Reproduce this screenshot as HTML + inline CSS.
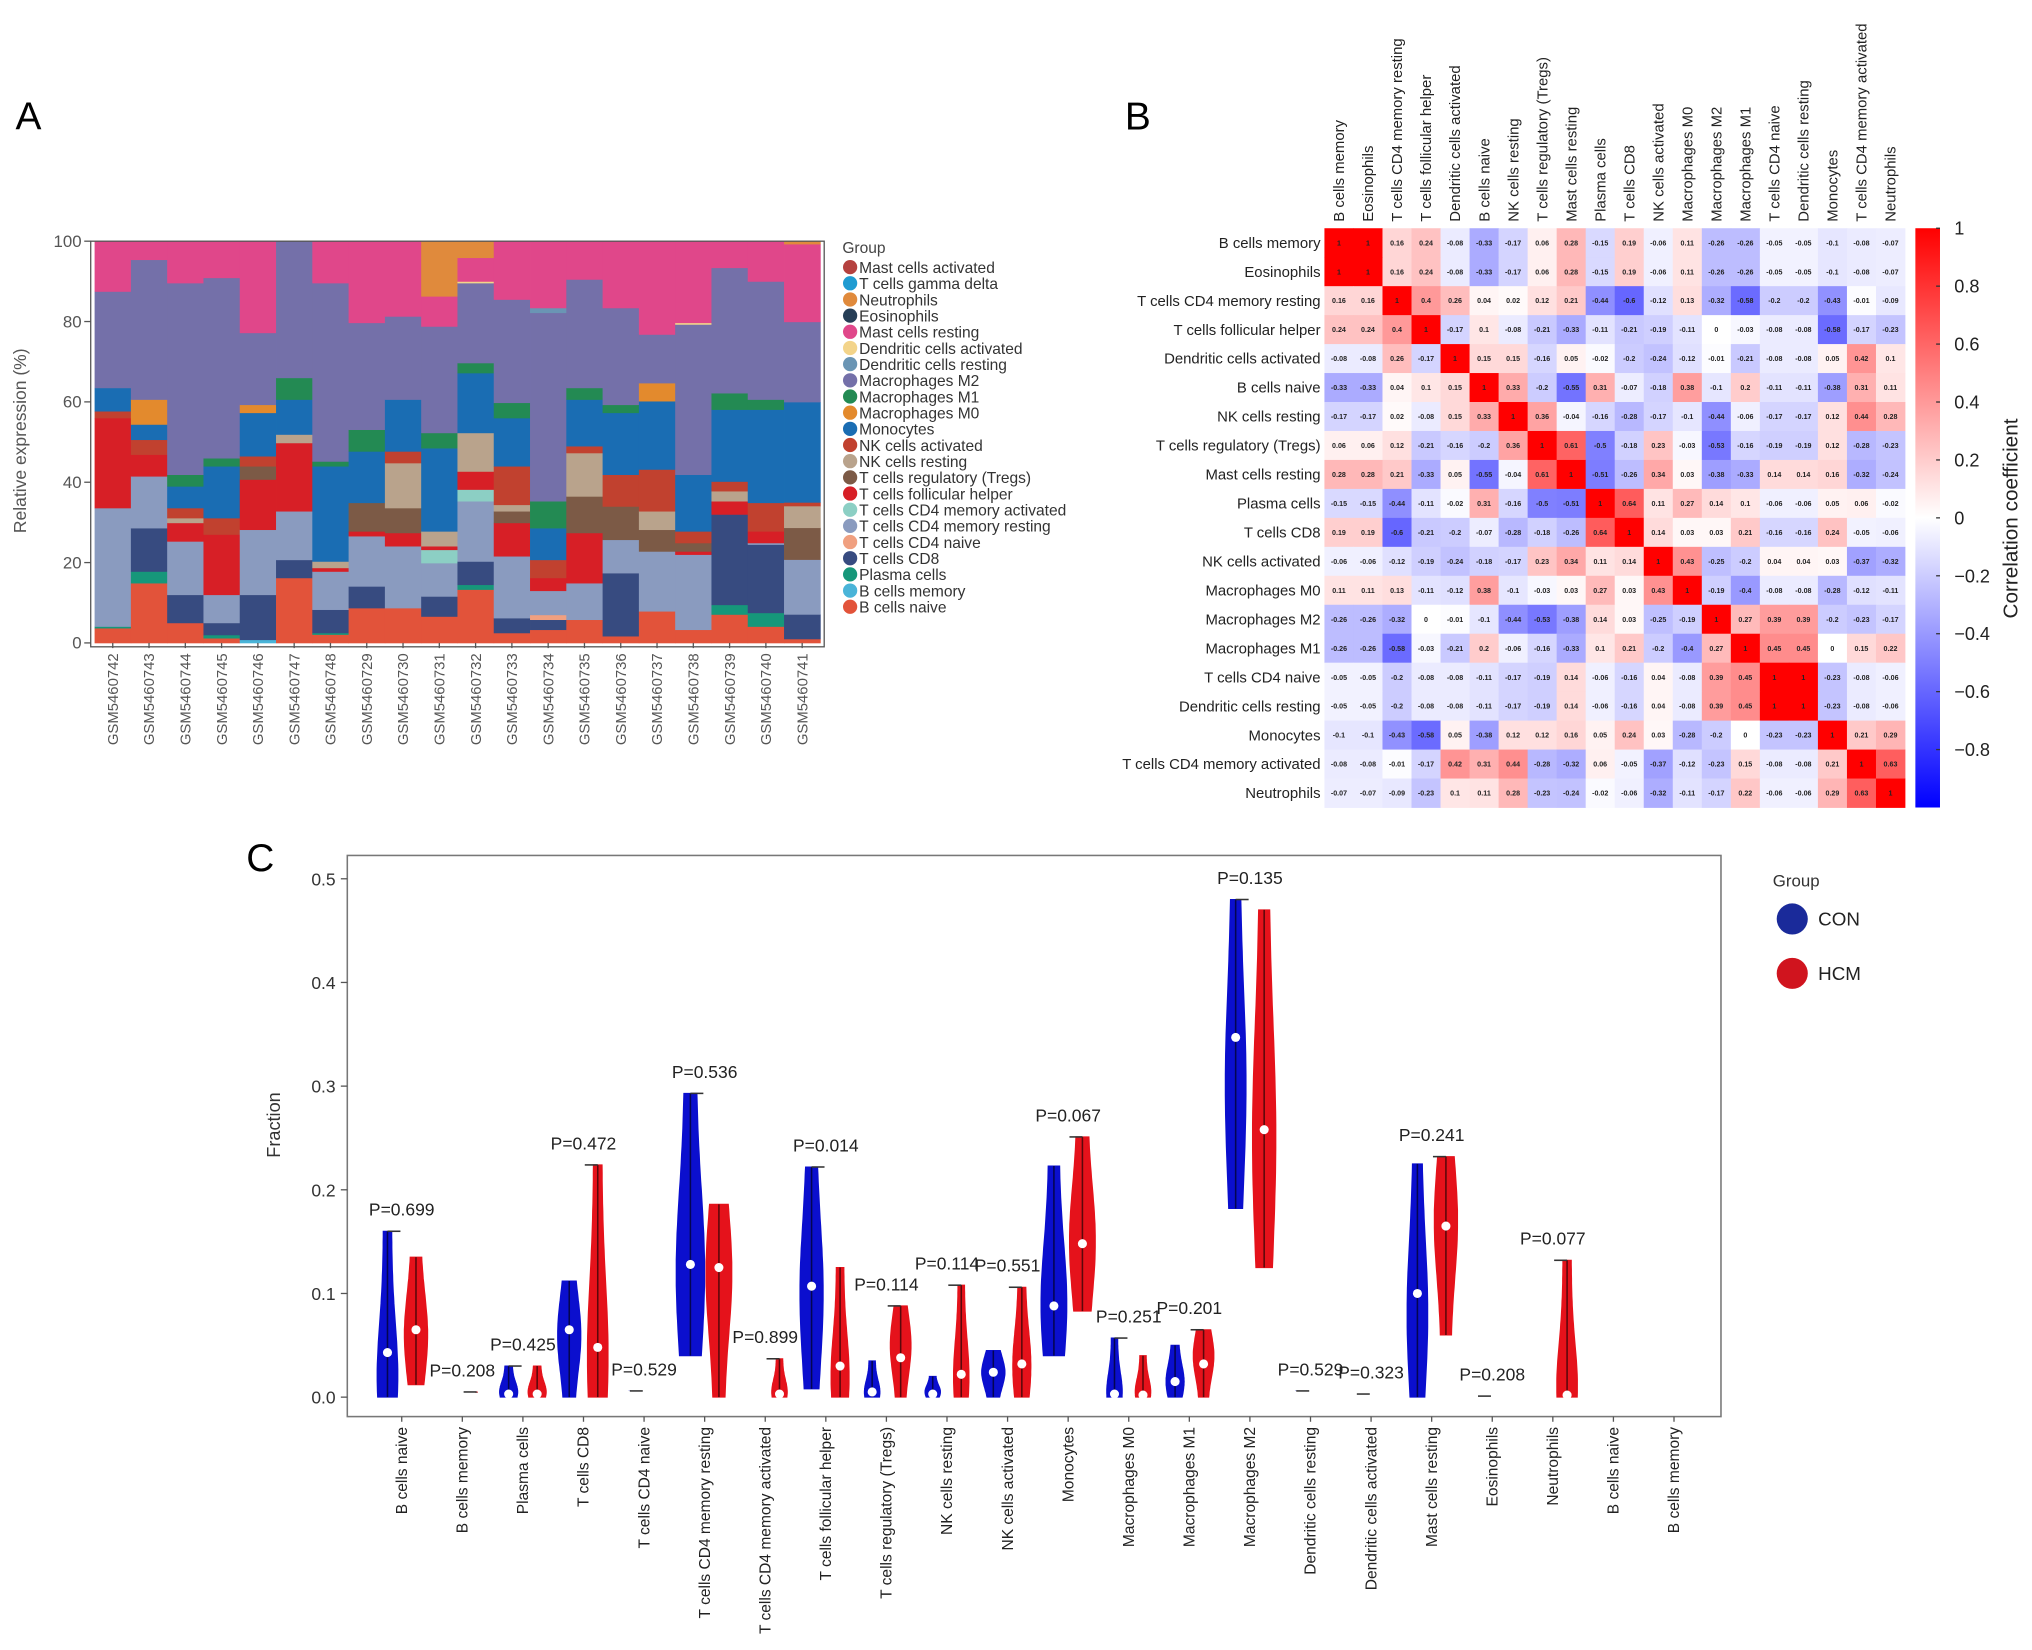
<!DOCTYPE html>
<html><head><meta charset="utf-8">
<style>
html,body{margin:0;padding:0;background:#fff;}
svg{display:block;font-family:"Liberation Sans",Arial,sans-serif;}
</style></head>
<body>
<svg id="fig" width="2032" height="1650" viewBox="0 0 1568 1273" xmlns="http://www.w3.org/2000/svg">
<text x="12" y="100" font-size="30">A</text>
<text x="868" y="100" font-size="30">B</text>
<text x="190" y="672" font-size="30">C</text>
<g id="pa"></g>
<g id="pb"></g>
<g id="pc"></g>
</svg>
<script>
// ---------- Panel A data ----------
const samples = ["GSM5460742","GSM5460743","GSM5460744","GSM5460745","GSM5460746","GSM5460747","GSM5460748","GSM5460729","GSM5460730","GSM5460731","GSM5460732","GSM5460733","GSM5460734","GSM5460735","GSM5460736","GSM5460737","GSM5460738","GSM5460739","GSM5460740","GSM5460741"];
const yTicksA = [0,20,40,60,80,100];
const bNaive    = [3.7,14.9,5,1.2,0,16.2,2.1,8.7,8.7,6.6,13.3,2.5,3.3,5.8,1.7,7.9,3.3,7.1,4.1,1];
const bMemory   = [0,0,0,0,0.8,0,0,0,0,0,0,0,0,0,0,0,0,0,0,0];
const plasma    = [0.4,2.9,0,0.8,0,0,0.4,0,0,0,1.2,0,0,0,0,0,0,2.4,3.4,0];
const cd8       = [0,10.8,7,3,11.2,4.5,5.8,5.4,0,5,5.8,3.7,2.5,0,15.7,0,0,22.5,17,6.1];
const cd4Naive  = [0,0,0,0,0,0,0,0,0,0,0,0,1.2,0,0,0,0,0,0,0];
const cd4MemRest= [29.5,12.9,13.3,7,16.2,12.1,9.5,12.5,15.4,8.3,15,15.4,6,9.1,8.3,14.9,18.7,0,0.4,13.6];
const cd4MemAct = [0,0,0,0,0,0,0,0,0,3.3,2.9,0,0,0,0,0,0,0,0,0];
const tfh       = [22.4,5.4,4.6,15,12.5,17,0.9,1.2,3.3,0.9,4.5,8.3,3.2,12.5,0,0,0.8,3.3,2.9,0];
const tregs     = [0,0,0,0,3.3,0,0,7.1,6.2,0,0,2.9,0,9.1,8.3,5.4,2.1,0,0,7.9];
const nkRest    = [0,0,1.2,0,0,2.1,1.6,0,11.2,3.7,9.6,1.6,0,10.8,0,4.6,0,2.5,0,5.4];
const nkAct     = [1.7,3.7,2.5,4.1,2.5,0,0,0,2.9,0,0,9.6,4.5,1.7,7.9,10.4,2.9,2.4,7.1,0.9];
const mono      = [5.8,3.8,5.4,12.9,10.8,8.7,23.7,12.8,12.9,20.7,14.9,12,7.9,11.6,15.4,17,14.1,17.9,23.2,24.9];
const m0        = [0,6.2,0,0,2,0,0,0,0,0,0,0,0,0,0,4.5,0,0,0,0];
const m1        = [0,0,2.9,2,0,5.4,1.2,5.4,0,3.8,2.5,3.8,6.7,2.9,2,0,0,4.1,2.5,0];
const m2        = [24,34.8,47.7,44.9,17.9,34,44.4,26.6,20.7,26.5,19.9,25.7,46.9,27,24.1,12.1,37.4,31.2,29.4,19.9];
const dcRest    = [0,0,0,0,0,0,0,0,0,0,0,0,1.2,0,0,0,0,0,0,0];
const dcAct     = [0,0,0,0,0,0,0,0,0,0,0.4,0,0,0,0,0,0.4,0,0,0];
const mastRest  = [12.5,4.6,10.4,9.1,22.8,0,10.4,20.3,18.7,7.5,5.9,14.5,16.6,9.5,16.6,23.2,20.3,6.6,10,19.3];
const eos       = [0,0,0,0,0,0,0,0,0,0,0,0,0,0,0,0,0,0,0,0];
const neut      = [0,0,0,0,0,0,0,0,0,13.7,4.1,0,0,0,0,0,0,0,0,0.7];
const gammaDelta= [0,0,0,0,0,0,0,0,0,0,0,0,0,0,0,0,0,0,0,0];
const mastAct   = [0,0,0,0,0,0,0,0,0,0,0,0,0,0,0,0,0,0,0,0];
const cellTypes = ["B cells naive","B cells memory","Plasma cells","T cells CD8","T cells CD4 naive","T cells CD4 memory resting","T cells CD4 memory activated","T cells follicular helper","T cells regulatory (Tregs)","NK cells resting","NK cells activated","Monocytes","Macrophages M0","Macrophages M1","Macrophages M2","Dendritic cells resting","Dendritic cells activated","Mast cells resting","Eosinophils","Neutrophils","T cells gamma delta","Mast cells activated"];
const seriesA = [bNaive,bMemory,plasma,cd8,cd4Naive,cd4MemRest,cd4MemAct,tfh,tregs,nkRest,nkAct,mono,m0,m1,m2,dcRest,dcAct,mastRest,eos,neut,gammaDelta,mastAct];
const colorsA = ["#e2533a","#4ab4d8","#16977a","#374b80","#f0a080","#8a9bbf","#8ccfc4","#d71f26","#7c5a46","#b9a38c","#c1412f","#1a6db3","#e38a2d","#238a53","#7470a9","#6a95b4","#f3d48a","#e0478a","#263e56","#e08a3c","#1f9bd1","#b5413f"];

// ---------- Panel B data ----------
const corrLabels = ["B cells memory","Eosinophils","T cells CD4 memory resting","T cells follicular helper","Dendritic cells activated","B cells naive","NK cells resting","T cells regulatory (Tregs)","Mast cells resting","Plasma cells","T cells CD8","NK cells activated","Macrophages M0","Macrophages M2","Macrophages M1","T cells CD4 naive","Dendritic cells resting","Monocytes","T cells CD4 memory activated","Neutrophils"];
const corrRows = [
[1,1,0.16,0.24,-0.08,-0.33,-0.17,0.06,0.28,-0.15,0.19,-0.06,0.11,-0.26,-0.26,-0.05,-0.05,-0.1,-0.08,-0.07],
[1,1,0.16,0.24,-0.08,-0.33,-0.17,0.06,0.28,-0.15,0.19,-0.06,0.11,-0.26,-0.26,-0.05,-0.05,-0.1,-0.08,-0.07],
[0.16,0.16,1,0.4,0.26,0.04,0.02,0.12,0.21,-0.44,-0.6,-0.12,0.13,-0.32,-0.58,-0.2,-0.2,-0.43,-0.01,-0.09],
[0.24,0.24,0.4,1,-0.17,0.1,-0.08,-0.21,-0.33,-0.11,-0.21,-0.19,-0.11,0,-0.03,-0.08,-0.08,-0.58,-0.17,-0.23],
[-0.08,-0.08,0.26,-0.17,1,0.15,0.15,-0.16,0.05,-0.02,-0.2,-0.24,-0.12,-0.01,-0.21,-0.08,-0.08,0.05,0.42,0.1],
[-0.33,-0.33,0.04,0.1,0.15,1,0.33,-0.2,-0.55,0.31,-0.07,-0.18,0.38,-0.1,0.2,-0.11,-0.11,-0.38,0.31,0.11],
[-0.17,-0.17,0.02,-0.08,0.15,0.33,1,0.36,-0.04,-0.16,-0.28,-0.17,-0.1,-0.44,-0.06,-0.17,-0.17,0.12,0.44,0.28],
[0.06,0.06,0.12,-0.21,-0.16,-0.2,0.36,1,0.61,-0.5,-0.18,0.23,-0.03,-0.53,-0.16,-0.19,-0.19,0.12,-0.28,-0.23],
[0.28,0.28,0.21,-0.33,0.05,-0.55,-0.04,0.61,1,-0.51,-0.26,0.34,0.03,-0.38,-0.33,0.14,0.14,0.16,-0.32,-0.24],
[-0.15,-0.15,-0.44,-0.11,-0.02,0.31,-0.16,-0.5,-0.51,1,0.64,0.11,0.27,0.14,0.1,-0.06,-0.06,0.05,0.06,-0.02],
[0.19,0.19,-0.6,-0.21,-0.2,-0.07,-0.28,-0.18,-0.26,0.64,1,0.14,0.03,0.03,0.21,-0.16,-0.16,0.24,-0.05,-0.06],
[-0.06,-0.06,-0.12,-0.19,-0.24,-0.18,-0.17,0.23,0.34,0.11,0.14,1,0.43,-0.25,-0.2,0.04,0.04,0.03,-0.37,-0.32],
[0.11,0.11,0.13,-0.11,-0.12,0.38,-0.1,-0.03,0.03,0.27,0.03,0.43,1,-0.19,-0.4,-0.08,-0.08,-0.28,-0.12,-0.11],
[-0.26,-0.26,-0.32,0,-0.01,-0.1,-0.44,-0.53,-0.38,0.14,0.03,-0.25,-0.19,1,0.27,0.39,0.39,-0.2,-0.23,-0.17],
[-0.26,-0.26,-0.58,-0.03,-0.21,0.2,-0.06,-0.16,-0.33,0.1,0.21,-0.2,-0.4,0.27,1,0.45,0.45,0,0.15,0.22],
[-0.05,-0.05,-0.2,-0.08,-0.08,-0.11,-0.17,-0.19,0.14,-0.06,-0.16,0.04,-0.08,0.39,0.45,1,1,-0.23,-0.08,-0.06],
[-0.05,-0.05,-0.2,-0.08,-0.08,-0.11,-0.17,-0.19,0.14,-0.06,-0.16,0.04,-0.08,0.39,0.45,1,1,-0.23,-0.08,-0.06],
[-0.1,-0.1,-0.43,-0.58,0.05,-0.38,0.12,0.12,0.16,0.05,0.24,0.03,-0.28,-0.2,0,-0.23,-0.23,1,0.21,0.29],
[-0.08,-0.08,-0.01,-0.17,0.42,0.31,0.44,-0.28,-0.32,0.06,-0.05,-0.37,-0.12,-0.23,0.15,-0.08,-0.08,0.21,1,0.63],
[-0.07,-0.07,-0.09,-0.23,0.1,0.11,0.28,-0.23,-0.24,-0.02,-0.06,-0.32,-0.11,-0.17,0.22,-0.06,-0.06,0.29,0.63,1]];
const cbTicks = [1,0.8,0.6,0.4,0.2,0,-0.2,-0.4,-0.6,-0.8];

// ---------- Panel C data ----------
const violinCats = ["B cells naive","B cells memory","Plasma cells","T cells CD8","T cells CD4 naive","T cells CD4 memory resting","T cells CD4 memory activated","T cells follicular helper","T cells regulatory (Tregs)","NK cells resting","NK cells activated","Monocytes","Macrophages M0","Macrophages M1","Macrophages M2","Dendritic cells resting","Dendritic cells activated","Mast cells resting","Eosinophils","Neutrophils","B cells naive","B cells memory"];
const pLabels = ["P=0.699","P=0.208","P=0.425","P=0.472","P=0.529","P=0.536","P=0.899","P=0.014","P=0.114","P=0.114","P=0.551","P=0.067","P=0.251","P=0.201","P=0.135","P=0.529","P=0.323","P=0.241","P=0.208","P=0.077","",""];
const conMin = [0,0,0,0,0,0.04,0,0.008,0,0,0,0.04,0,0,0.182,0,0,0,0,0,null,null];
const conMax = [0.16,0.003,0.03,0.112,0.006,0.293,0.001,0.222,0.035,0.02,0.045,0.223,0.057,0.05,0.48,0.006,0.003,0.225,0.001,0,null,null];
const conMed = [0.043,0.002,0.003,0.065,0.002,0.128,0,0.107,0.005,0.003,0.024,0.088,0.003,0.015,0.347,0.002,0.001,0.1,0,0,null,null];
const conPeak= [0.02,0.001,0.005,0.06,0.002,0.12,0,0.1,0.005,0.005,0.024,0.09,0.005,0.015,0.3,0.002,0.001,0.08,0,0,null,null];
const hcmMin = [0.012,0,0,0,0,0,0,0,0,0,0,0.083,0,0,0.125,0,0,0.06,0,0,null,null];
const hcmMax = [0.135,0.005,0.03,0.224,0.004,0.186,0.037,0.125,0.088,0.108,0.106,0.251,0.04,0.065,0.47,0.004,0.002,0.232,0.001,0.132,null,null];
const hcmMed = [0.065,0,0.003,0.048,0.001,0.125,0.003,0.03,0.038,0.022,0.032,0.148,0.002,0.032,0.258,0.001,0.001,0.165,0,0.002,null,null];
const hcmPeak= [0.06,0.001,0.005,0.04,0.001,0.12,0.005,0.02,0.05,0.02,0.03,0.15,0.005,0.04,0.25,0.001,0.001,0.17,0,0.01,null,null];
const conWidth=[8,1,7,9,1,11,1,9,6,6,9,10,6,7,8,1,1,8,1,0,0,0];
const hcmWidth=[9,1,7,8,1,10,6,7,8,6,7,10,6,8,9,1,1,9,1,8,0,0];
const yTicksC = [0,0.1,0.2,0.3,0.4,0.5];

const NS="http://www.w3.org/2000/svg";
function mk(tag,attrs,parent,text){const e=document.createElementNS(NS,tag);for(const k in attrs)e.setAttribute(k,attrs[k]);if(text!==undefined)e.textContent=text;parent.appendChild(e);return e;}

// ===== Panel A =====
(function(){
const g=document.getElementById('pa');
const x0=73,x1=633,yTop=186,yBot=496,bw=(x1-x0)/samples.length;
const ys=v=>yBot-(yBot-yTop)*v/100;
samples.forEach((s,i)=>{
  let tot=0;seriesA.forEach(a=>tot+=a[i]);
  let cum=0;
  seriesA.forEach((a,k)=>{
    const v=a[i]*100/tot; if(v<=0)return;
    const r=mk('rect',{x:x0+i*bw,y:ys(cum+v),width:bw+0.3,height:ys(cum)-ys(cum+v)+0.3,fill:colorsA[k]},g);
    
    
    cum+=v;
  });
  const cx=x0+(i+0.5)*bw;
  mk('line',{x1:cx,y1:yBot,x2:cx,y2:yBot+4,stroke:'#555','stroke-width':1},g);
  const t=mk('text',{x:0,y:0,transform:`translate(${cx+4},${yBot+8}) rotate(-90)`,'text-anchor':'end','font-size':11.5,fill:'#555'},g,s);
  
  
});
mk('rect',{x:x0-3,y:yTop,width:x1-x0+6,height:yBot-yTop+3,fill:'none',stroke:'#555','stroke-width':1},g);
yTicksA.forEach(v=>{
  const y=ys(v);
  mk('line',{x1:x0-8,y1:y,x2:x0-3,y2:y,stroke:'#555'},g);
  const t=mk('text',{x:x0-10,y:y+4.5,'text-anchor':'end','font-size':13,fill:'#555'},g,String(v));
  
  
});
const yt=mk('text',{x:0,y:0,transform:'translate(20,340) rotate(-90)','text-anchor':'middle','font-size':13.5,fill:'#555'},g,'Relative expression (%)');


const lg=mk('text',{x:650,y:195,'font-size':12,fill:'#444'},g,'Group');


for(let k=seriesA.length-1,j=0;k>=0;k--,j++){
  const y=206+j*12.48;
  const e=mk('g',{},g);
  
  
  mk('circle',{cx:656,cy:y,r:5.5,fill:colorsA[k]},e);
  mk('text',{x:663,y:y+4.5,'font-size':12,fill:'#333'},e,cellTypes[k]);
}
})();

// ===== Panel B =====
(function(){
const g=document.getElementById('pb');
const x0=1022,y0=176,cw=22.4,ch=22.35,n=corrLabels.length;
function col(v){
  let r,gg,b;
  if(v>=0){r=255;gg=Math.round(255*(1-v));b=gg;}else{b=255;r=Math.round(255*(1+v));gg=r;}
  return `rgb(${r},${gg},${b})`;
}
corrRows.forEach((row,i)=>{
  row.forEach((v,j)=>{
    const r=mk('rect',{x:x0+j*cw,y:y0+i*ch,width:cw+0.3,height:ch+0.3,fill:col(v)},g);
    
    
    mk('text',{x:x0+(j+0.5)*cw,y:y0+(i+0.5)*ch+2,'text-anchor':'middle','font-size':5.5,fill:'#222','font-weight':'bold'},g,String(v));
  });
  const t=mk('text',{x:x0-3,y:y0+(i+0.5)*ch+4,'text-anchor':'end','font-size':11.5,fill:'#222'},g,corrLabels[i]);
  
  
});
corrLabels.forEach((l,j)=>{
  const cx=x0+(j+0.5)*cw;
  const t=mk('text',{x:0,y:0,transform:`translate(${cx+4},${y0-5}) rotate(-90)`,'font-size':11.5,fill:'#222'},g,l);
  
  
});
const cbx=1478,cbw=19,cbTop=176,cbBot=623;
const defs=mk('defs',{},g);
const lgd=mk('linearGradient',{id:'cbgrad',x1:0,y1:0,x2:0,y2:1},defs);
mk('stop',{offset:'0','stop-color':'#ff0000'},lgd);
mk('stop',{offset:'0.5','stop-color':'#ffffff'},lgd);
mk('stop',{offset:'1','stop-color':'#0000ff'},lgd);
const cb=mk('rect',{x:cbx,y:cbTop,width:cbw,height:cbBot-cbTop,fill:'url(#cbgrad)'},g);


const cy=v=>cbTop+(cbBot-cbTop)*(1-v)/2;
cbTicks.forEach(v=>{
  mk('line',{x1:cbx+cbw-3,y1:cy(v),x2:cbx+cbw,y2:cy(v),stroke:'#333'},g);
  const t=mk('text',{x:cbx+30,y:cy(v)+5,'font-size':14,fill:'#222'},g,v===0?'0':String(v).replace('-','\u2212'));
  
  
});
const ct=mk('text',{x:0,y:0,transform:'translate(1557,400) rotate(-90)','text-anchor':'middle','font-size':16,fill:'#222'},g,'Correlation coefficient');


})();

// ===== Panel C =====
(function(){
const g=document.getElementById('pc');
const bx0=268,bx1=1328,by0=660,by1=1093;
const yv=v=>1078-800*v;
const cxOf=i=>310+i*46.75;
const fr=mk('rect',{x:bx0,y:by0,width:bx1-bx0,height:by1-by0,fill:'none',stroke:'#777','stroke-width':1.2},g);


yTicksC.forEach(v=>{
  mk('line',{x1:bx0-5,y1:yv(v),x2:bx0,y2:yv(v),stroke:'#555'},g);
  const t=mk('text',{x:bx0-9,y:yv(v)+5,'text-anchor':'end','font-size':13.5,fill:'#333'},g,v.toFixed(1));
  
  
});
const ft=mk('text',{x:0,y:0,transform:'translate(216,868) rotate(-90)','text-anchor':'middle','font-size':14,fill:'#333'},g,'Fraction');


function violin(cx,mn,mx,md,pk,W,color,name){
  if(mn===null||W<=0)return;
  const vg=mk('g',{},g);
  
  
  const range=Math.max(mx-mn,1e-4),N=30,L=[],R=[];
  for(let k=0;k<=N;k++){
    const v=mn+range*k/N;
    const w=W*(0.4+0.6*Math.exp(-Math.pow((v-pk)/(0.45*range),2)));
    L.push([cx-w,yv(v)]);R.push([cx+w,yv(v)]);
  }
  const pts=L.concat(R.reverse()).map(p=>p[0].toFixed(1)+','+p[1].toFixed(1)).join(' ');
  mk('polygon',{points:pts,fill:color,stroke:color,'stroke-width':0.8},vg);
  mk('line',{x1:cx,y1:yv(mn),x2:cx,y2:yv(mx),stroke:'#000','stroke-width':1.2,opacity:0.6},vg);
  mk('circle',{cx:cx,cy:yv(md),r:3.5,fill:'#fff'},vg);
}
violinCats.forEach((c,i)=>{
  const cx=cxOf(i),bxc=cx-11,rxc=cx+11;
  violin(bxc,conMin[i],conMax[i],conMed[i],conPeak[i],conWidth[i],'#0b0fce','violin-con-'+i);
  violin(rxc,hcmMin[i],hcmMax[i],hcmMed[i],hcmPeak[i],hcmWidth[i],'#e5121b','violin-hcm-'+i);
  if(pLabels[i]){
    const top=Math.max(conMax[i],hcmMax[i]);
    const conTaller=conMax[i]>=hcmMax[i];
    const lx1=conTaller?bxc:rxc-10,lx2=conTaller?bxc+10:rxc;
    mk('line',{x1:lx1,y1:yv(top),x2:lx2,y2:yv(top),stroke:'#333','stroke-width':1.2},g);
    const t=mk('text',{x:cx,y:yv(top)-12,'text-anchor':'middle','font-size':13.5,fill:'#222'},g,pLabels[i]);
    
    
  }
  mk('line',{x1:cx,y1:by1,x2:cx,y2:by1+4,stroke:'#555'},g);
  const t=mk('text',{x:0,y:0,transform:`translate(${cx+4},${by1+8}) rotate(-90)`,'text-anchor':'end','font-size':12,fill:'#222'},g,c);
  
  
});
const lt=mk('text',{x:1368,y:684,'font-size':13,fill:'#333'},g,'Group');


const e1=mk('g',{},g);


mk('circle',{cx:1383,cy:709,r:12,fill:'#1a2a9a'},e1);
mk('text',{x:1403,y:714,'font-size':14.5,fill:'#222'},e1,'CON');
const e2=mk('g',{},g);


mk('circle',{cx:1383,cy:751,r:12,fill:'#d0141e'},e2);
mk('text',{x:1403,y:756,'font-size':14.5,fill:'#222'},e2,'HCM');
})();
</script>
</body></html>
